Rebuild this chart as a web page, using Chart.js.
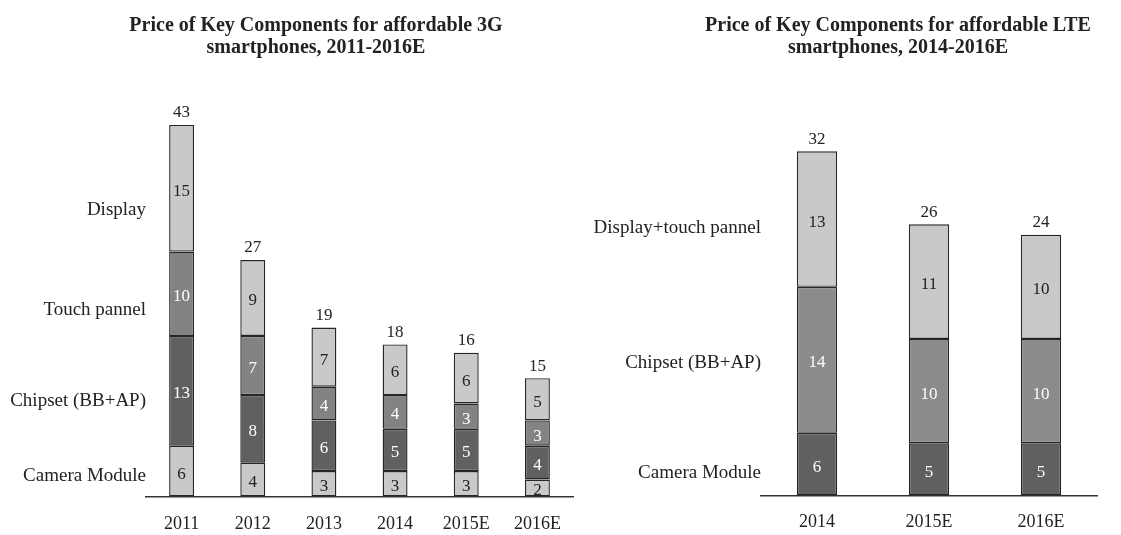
<!DOCTYPE html>
<html>
<head>
<meta charset="utf-8">
<script src="https://cdn.jsdelivr.net/npm/chart.js@4.4.1/dist/chart.umd.min.js"></script>
<style>
  body { margin: 0; background: #fff; }
  #wrap { position: relative; width: 1121px; height: 535px; overflow: hidden; }
  #c3g { position: absolute; left: 0; top: 0; }
  #clte { position: absolute; left: 580px; top: 0; }
</style>
</head>
<body>
<div id="wrap">
  <canvas id="c3g" width="580" height="554"></canvas>
  <canvas id="clte" width="541" height="551"></canvas>
</div>
<script>
// 3G chart
const years3g = ["2011", "2012", "2013", "2014", "2015E", "2016E"];
const camera3g = [6, 4, 3, 3, 3, 2];
const chipset3g = [13, 8, 6, 5, 5, 4];
const touch3g = [10, 7, 4, 4, 3, 3];
const display3g = [15, 9, 7, 6, 6, 5];
const totals3g = [43, 27, 19, 18, 16, 15]; // printed totals (rounded in the source)
const names3g = ["Camera Module", "Chipset (BB+AP)", "Touch pannel", "Display"];
const nameAt3g = [2.4, 11.35, 22.1, 33.9]; // value-axis spot of each row name

// LTE chart
const yearsLte = ["2014", "2015E", "2016E"];
const cameraLte = [6, 5, 5];
const chipsetLte = [14, 10, 10];
const displayLte = [13, 11, 10];
const totalsLte = [32, 26, 24];
const namesLte = ["Camera Module", "Chipset (BB+AP)", "Display+touch pannel"];
const nameAtLte = [2.1, 12.7, 25.6];

const LIGHT = "#c8c9cb";
const MID = "#828385";
const MID_LTE = "#8a8b8d";
const DARK = "#5f6062";
const INK = "#222";
const serif = "Liberation Serif";

// numbers inside each segment + total above each bar
const barText = {
  id: "barText",
  afterDatasetsDraw(chart, args, opts) {
    const ctx = chart.ctx;
    ctx.save();
    ctx.font = "17px " + serif;
    ctx.textAlign = "center";
    ctx.textBaseline = "middle";
    chart.data.datasets.forEach((ds, i) => {
      ctx.fillStyle = ds.textColor;
      chart.getDatasetMeta(i).data.forEach((bar, j) => {
        const p = bar.getProps(["x", "y", "base"], true);
        ctx.fillText(ds.data[j], p.x, (p.y + p.base) / 2 + 3);
      });
    });
    const top = chart.getDatasetMeta(chart.data.datasets.length - 1);
    ctx.fillStyle = INK;
    top.data.forEach((bar, j) => {
      ctx.fillText(opts.totals[j], bar.x, bar.y - 12);
    });
    ctx.restore();
  }
};

// two-line bold heading, centred where the source has it
const headline = {
  id: "headline",
  afterDraw(chart, args, opts) {
    const ctx = chart.ctx;
    ctx.save();
    ctx.font = "bold 20px " + serif;
    ctx.fillStyle = INK;
    ctx.textAlign = "center";
    ctx.textBaseline = "middle";
    opts.lines.forEach((t, i) => ctx.fillText(t, opts.x, 26 + i * 22));
    ctx.restore();
  }
};

const seg = (data, color, textColor, bp) => ({
  data: data,
  backgroundColor: color,
  borderColor: "#262626",
  borderWidth: 1.4,
  borderSkipped: false,
  barPercentage: bp,
  categoryPercentage: 1,
  textColor: textColor
});

const makeOptions = (title, titleX, totals, names, nameAt, ymax, yWidth, pad, tickPad) => ({
  responsive: false,
  animation: false,
  layout: { padding: pad },
  plugins: {
    legend: { display: false },
    tooltip: { enabled: false },
    title: { display: false },
    headline: { lines: title, x: titleX },
    barText: { totals: totals }
  },
  scales: {
    x: {
      stacked: true,
      grid: { display: false, drawTicks: false },
      border: { display: true, color: "#333", width: 1.5 },
      ticks: { padding: tickPad, color: INK, font: { family: serif, size: 18 } }
    },
    y: {
      stacked: true,
      min: 0,
      max: ymax,
      grid: { display: false, drawTicks: false },
      border: { display: false },
      afterBuildTicks: s => { s.ticks = nameAt.map(v => ({ value: v })); },
      afterFit: s => { s.width = yWidth; },
      ticks: {
        padding: 0,
        autoSkip: false,
        color: INK,
        font: { family: serif, size: 19 },
        callback: (v, i) => names[i]
      }
    }
  }
});

new Chart(document.getElementById("c3g"), {
  type: "bar",
  data: {
    labels: years3g,
    datasets: [
      seg(camera3g, LIGHT, INK, 0.35),
      seg(chipset3g, DARK, "#fff", 0.35),
      seg(touch3g, MID, "#fff", 0.35),
      seg(display3g, LIGHT, INK, 0.35)
    ]
  },
  options: makeOptions(["Price of Key Components for affordable 3G", "smartphones, 2011-2016E"], 316,
    totals3g, names3g, nameAt3g, 46, 146, { left: 0, right: 7, top: 108, bottom: 2 }, 17),
  plugins: [barText, headline]
});

new Chart(document.getElementById("clte"), {
  type: "bar",
  data: {
    labels: yearsLte,
    datasets: [
      seg(cameraLte, DARK, "#fff", 0.36),
      seg(chipsetLte, MID_LTE, "#fff", 0.36),
      seg(displayLte, LIGHT, INK, 0.36)
    ]
  },
  options: makeOptions(["Price of Key Components for affordable LTE", "smartphones, 2014-2016E"], 318,
    totalsLte, namesLte, nameAtLte, 36, 181, { left: 0, right: 24, top: 120, bottom: 2 }, 16),
  plugins: [barText, headline]
});
</script>
</body>
</html>
